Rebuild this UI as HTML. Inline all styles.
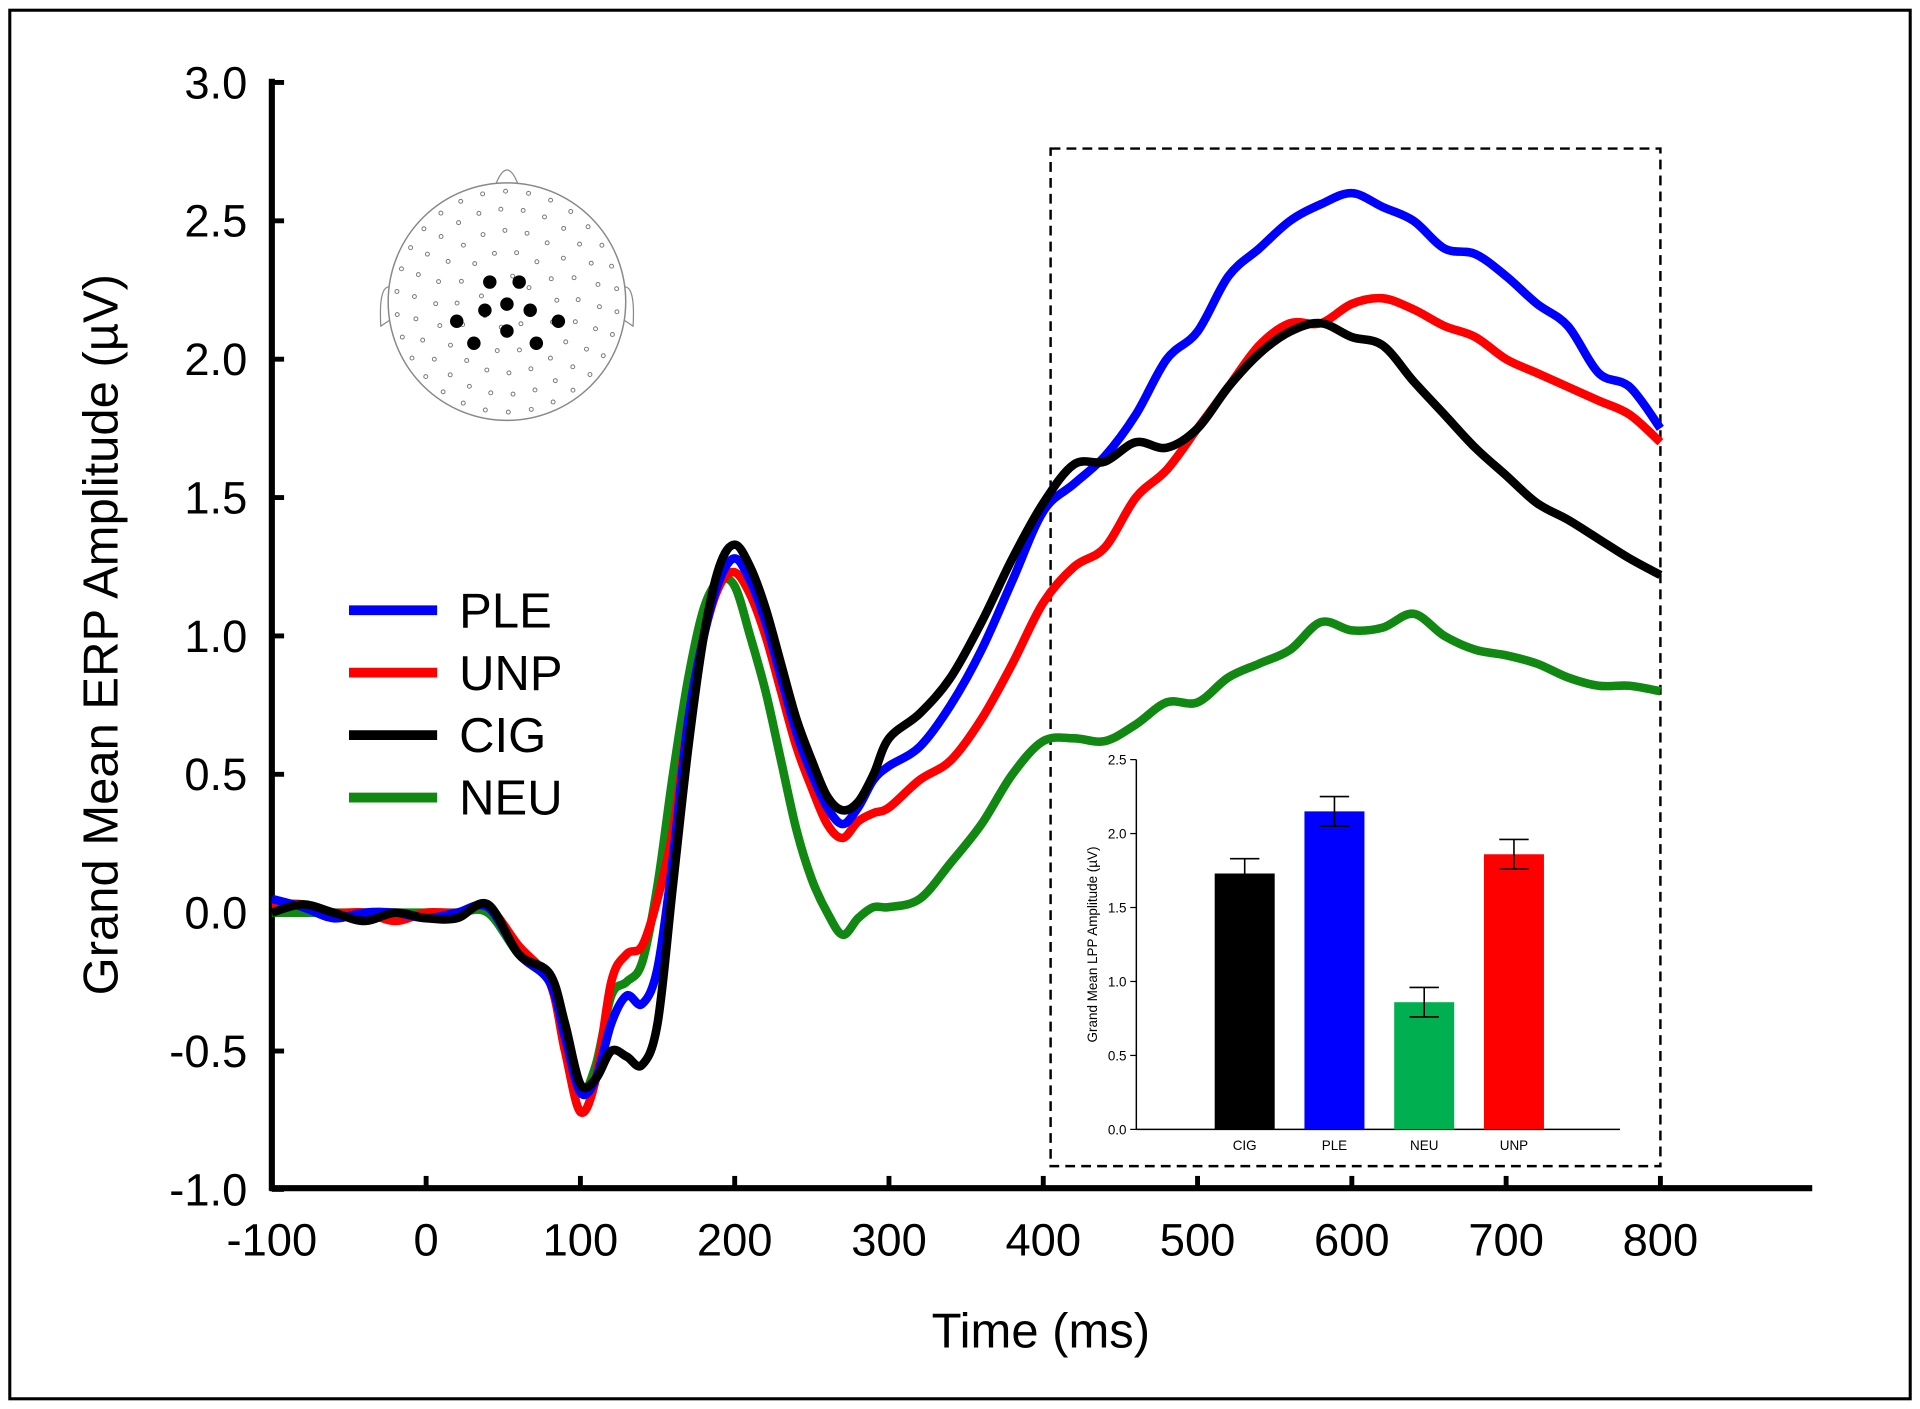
<!DOCTYPE html>
<html><head><meta charset="utf-8"><style>
html,body{margin:0;padding:0;background:#fff;}
svg{display:block;font-family:"Liberation Sans",Arial,sans-serif;}
</style></head><body>
<svg id="chart" width="1920" height="1409" viewBox="0 0 1568 1150" xmlns="http://www.w3.org/2000/svg">
<rect x="8" y="8" width="1552" height="1134" fill="#fff" stroke="#000" stroke-width="2.5"/>
<g id="main"></g>
<g id="head"></g>
<g id="inset"></g>
</svg>
<script>
const times=[-100,-80,-60,-40,-20,0,20,40,60,80,90,100,110,120,130,140,150,160,170,180,190,200,210,220,230,240,250,260,270,280,290,300,320,340,360,380,400,420,440,460,480,500,520,540,560,580,600,620,640,660,680,700,720,740,760,780,800];
const ple=[0.05,0.02,-0.02,0,0,-0.02,0,0.02,-0.15,-0.25,-0.45,-0.65,-0.6,-0.4,-0.3,-0.33,-0.2,0.2,0.7,1.0,1.2,1.28,1.2,1.05,0.85,0.65,0.5,0.38,0.32,0.38,0.48,0.53,0.6,0.75,0.95,1.2,1.45,1.55,1.65,1.8,2.0,2.1,2.3,2.4,2.5,2.56,2.6,2.55,2.5,2.4,2.38,2.3,2.2,2.12,1.95,1.9,1.75];
const unp=[0.03,0.03,0,0,-0.03,0,0,0.02,-0.12,-0.25,-0.5,-0.72,-0.6,-0.25,-0.15,-0.12,0.05,0.3,0.7,1.0,1.18,1.23,1.15,1.0,0.8,0.6,0.45,0.32,0.27,0.33,0.36,0.38,0.48,0.55,0.7,0.9,1.12,1.25,1.32,1.5,1.6,1.75,1.9,2.05,2.13,2.13,2.2,2.22,2.18,2.12,2.08,2.0,1.95,1.9,1.85,1.8,1.7];
const cig=[0,0.03,0,-0.03,0,-0.02,-0.02,0.03,-0.15,-0.22,-0.4,-0.62,-0.6,-0.5,-0.52,-0.55,-0.4,0.1,0.6,1.0,1.25,1.33,1.25,1.1,0.9,0.7,0.55,0.42,0.37,0.4,0.5,0.63,0.72,0.85,1.05,1.28,1.48,1.62,1.63,1.7,1.68,1.75,1.9,2.02,2.1,2.13,2.08,2.05,1.92,1.8,1.68,1.58,1.48,1.42,1.35,1.28,1.22];
const neu=[0,0,0,0,0,0,0,0,-0.15,-0.25,-0.45,-0.65,-0.55,-0.3,-0.25,-0.18,0.1,0.5,0.85,1.1,1.2,1.18,1.0,0.8,0.55,0.3,0.12,0,-0.08,-0.02,0.02,0.02,0.05,0.18,0.32,0.5,0.62,0.63,0.62,0.68,0.76,0.76,0.85,0.9,0.95,1.05,1.02,1.03,1.08,1.0,0.95,0.93,0.9,0.85,0.82,0.82,0.8];
const xTicks=[-100,0,100,200,300,400,500,600,700,800];
const yTicks=[-1.0,-0.5,0.0,0.5,1.0,1.5,2.0,2.5,3.0];
const barCats=["CIG","PLE","NEU","UNP"];
const barVals=[1.73,2.15,0.86,1.86];
const barErr=[0.1,0.1,0.1,0.1];
const barTicks=[0.0,0.5,1.0,1.5,2.0,2.5];

const NS="http://www.w3.org/2000/svg";
function mk(tag,attrs,parent,text){const e=document.createElementNS(NS,tag);for(const k in attrs)e.setAttribute(k,attrs[k]);if(text!==undefined)e.textContent=text;parent.appendChild(e);return e;}
const X=t=>222+(t+100)*1.26;
const Y=v=>745-v*226;
const main=document.getElementById('main');

// axes
let a=mk('line',{x1:222,y1:64,x2:222,y2:972,stroke:'#000','stroke-width':5},main);

a=mk('line',{x1:220,y1:970,x2:1480,y2:970,stroke:'#000','stroke-width':5},main);

yTicks.forEach(v=>{
  let t=mk('line',{x1:222,y1:Y(v),x2:232,y2:Y(v),stroke:'#000','stroke-width':4},main);
  
  let l=mk('text',{x:202,y:Y(v)+13,'text-anchor':'end','font-size':37},main,v.toFixed(1));
  
});
xTicks.forEach(v=>{
  let t=mk('line',{x1:X(v),y1:970,x2:X(v),y2:960,stroke:'#000','stroke-width':4},main);
  
  let l=mk('text',{x:X(v),y:1025,'text-anchor':'middle','font-size':37},main,String(v));
  
});
let tt=mk('text',{x:850,y:1100,'text-anchor':'middle','font-size':40},main,'Time (ms)');

tt=mk('text',{x:0,y:0,'text-anchor':'middle','font-size':40,transform:'translate(96,518) rotate(-90)'},main,'Grand Mean ERP Amplitude (µV)');


// dashed box
let db=mk('rect',{x:858,y:121,width:498,height:831,fill:'none',stroke:'#000','stroke-width':2,'stroke-dasharray':'8,5'},main);


function pathFor(vals){
  const p=times.map((t,i)=>[X(t),Y(vals[i])]);
  let d='M'+p[0][0]+','+p[0][1];
  for(let i=0;i<p.length-1;i++){
    const p0=p[Math.max(0,i-1)],p1=p[i],p2=p[i+1],p3=p[Math.min(p.length-1,i+2)];
    const c1x=p1[0]+(p2[0]-p0[0])/6,c1y=p1[1]+(p2[1]-p0[1])/6;
    const c2x=p2[0]-(p3[0]-p1[0])/6,c2y=p2[1]-(p3[1]-p1[1])/6;
    d+=' C'+c1x+','+c1y+' '+c2x+','+c2y+' '+p2[0]+','+p2[1];
  }
  return d;
}
const series=[['neu',neu,'#118811'],['unp',unp,'#ff0000'],['ple',ple,'#0000ff'],['cig',cig,'#000000']];
series.forEach(s=>{
  const e=mk('path',{d:pathFor(s[1]),fill:'none',stroke:s[2],'stroke-width':7,'stroke-linejoin':'round'},main);
  
  
});

// legend
[['PLE','#0000ff'],['UNP','#ff0000'],['CIG','#000000'],['NEU','#118811']].forEach((l,i)=>{
  const y=498+i*51;
  const g=mk('g',{},main);
  
  
  mk('line',{x1:285,y1:y,x2:357,y2:y,stroke:l[1],'stroke-width':8},g);
  mk('text',{x:375,y:y+14,'font-size':40},g,l[0]);
});

// head
const head=document.getElementById('head');
const cx=414,cy=246,r=97;
mk('path',{d:`M${cx-9},${cy-r+1} Q${cx},${cy-r-22} ${cx+9},${cy-r+1}`,fill:'#fff',stroke:'#888','stroke-width':1},head);
mk('path',{d:`M${cx-r+2},${cy-12} Q${cx-r-8},${cy-14} ${cx-r-6},${cy+20} L${cx-r+3},${cy+14}`,fill:'#fff',stroke:'#888','stroke-width':1},head);
mk('path',{d:`M${cx+r-2},${cy-12} Q${cx+r+8},${cy-14} ${cx+r+6},${cy+20} L${cx+r-3},${cy+14}`,fill:'#fff',stroke:'#888','stroke-width':1},head);
mk('circle',{cx:cx,cy:cy,r:r,fill:'#fff',stroke:'#888','stroke-width':1.2},head);
[[0.93,30],[0.78,26],[0.6,20],[0.42,14],[0.22,8]].forEach(([f,n])=>{
  for(let i=0;i<n;i++){const an=i/n*2*Math.PI+f;mk('circle',{cx:cx+Math.cos(an)*r*f,cy:cy+Math.sin(an)*r*f,r:1.6,fill:'#fff',stroke:'#777','stroke-width':0.8},head);}
});
[[400,230],[424,230],[396,253],[414,248],[433,253],[373,262],[456,262],[414,270],[387,280],[438,280]].forEach(p=>mk('circle',{cx:p[0],cy:p[1],r:5.5,fill:'#000'},head));

// inset bars
const ins=document.getElementById('inset');
const IX0=928,IY0=922,IS=302/2.5;
const IY=v=>IY0-v*IS;
mk('line',{x1:IX0,y1:620,x2:IX0,y2:IY0,stroke:'#000','stroke-width':1.2},ins);
mk('line',{x1:IX0,y1:IY0,x2:1323,y2:IY0,stroke:'#000','stroke-width':1.2},ins);
barTicks.forEach(v=>{
  mk('line',{x1:IX0-5,y1:IY(v),x2:IX0,y2:IY(v),stroke:'#000','stroke-width':1},ins);
  const l=mk('text',{x:IX0-8,y:IY(v)+4,'text-anchor':'end','font-size':11},ins,v.toFixed(1));
  
});
let it=mk('text',{x:0,y:0,'text-anchor':'middle','font-size':11,transform:'translate(896,771) rotate(-90)'},ins,'Grand Mean LPP Amplitude (µV)');

const barColors=['#000000','#0000ff','#00b050','#ff0000'];
barCats.forEach((c,i)=>{
  const bx=992+i*73.3,bw=49,mid=bx+bw/2;
  const b=mk('rect',{x:bx,y:IY(barVals[i]),width:bw,height:IY0-IY(barVals[i]),fill:barColors[i]},ins);
  
  const hi=IY(barVals[i]+barErr[i]),lo=IY(barVals[i]-barErr[i]);
  const e=mk('path',{d:`M${mid},${hi}V${lo}M${mid-12},${hi}H${mid+12}M${mid-12},${lo}H${mid+12}`,stroke:'#000','stroke-width':1.3,fill:'none'},ins);
  
  const l=mk('text',{x:mid,y:939,'text-anchor':'middle','font-size':11},ins,c);
  
});
</script>
</body></html>
